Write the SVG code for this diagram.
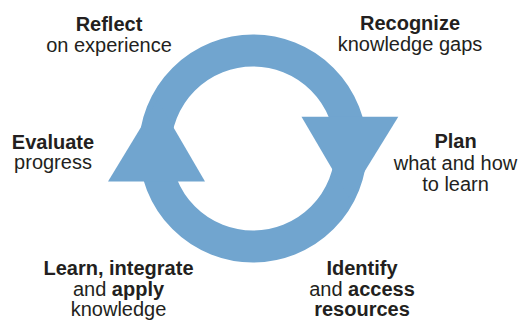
<svg xmlns="http://www.w3.org/2000/svg" width="521" height="320" viewBox="0 0 521 320">
  <style>
    text { font-family: "Liberation Sans", Arial, sans-serif; font-size: 20px; fill: #231f20; text-anchor: middle; }
    .b { font-weight: bold; }
    .ring { fill: none; stroke: #71a5cf; stroke-width: 32; }
    .head { fill: #71a5cf; }
  </style>
  <rect width="521" height="320" fill="#ffffff"/>
  <g id="connectors">
    <circle class="ring" cx="253" cy="148.5" r="98"/>
    <polygon class="head" points="301.5,116.7 398.3,116.7 348.7,197.3"/>
    <polygon class="head" points="108,181.5 205,181.5 157.5,100"/>
  </g>
  <g id="reflect">
    <text x="109" y="30.5" class="b">Reflect</text>
    <text x="109" y="51.5">on experience</text>
  </g>
  <g id="recognize">
    <text x="410" y="30" class="b">Recognize</text>
    <text x="410" y="51">knowledge gaps</text>
  </g>
  <g id="plan">
    <text x="455.5" y="147.5" class="b">Plan</text>
    <text x="455.5" y="169.5">what and how</text>
    <text x="455.5" y="191">to learn</text>
  </g>
  <g id="identify">
    <text x="362" y="275" class="b">Identify</text>
    <text x="362" y="295.5">and <tspan class="b">access</tspan></text>
    <text x="362" y="315.5" class="b">resources</text>
  </g>
  <g id="learn">
    <text x="118.5" y="275" class="b">Learn, integrate</text>
    <text x="118.5" y="295.5">and <tspan class="b">apply</tspan></text>
    <text x="118.5" y="315.5">knowledge</text>
  </g>
  <g id="evaluate">
    <text x="53" y="148.5" class="b">Evaluate</text>
    <text x="53" y="168.5">progress</text>
  </g>
</svg>
